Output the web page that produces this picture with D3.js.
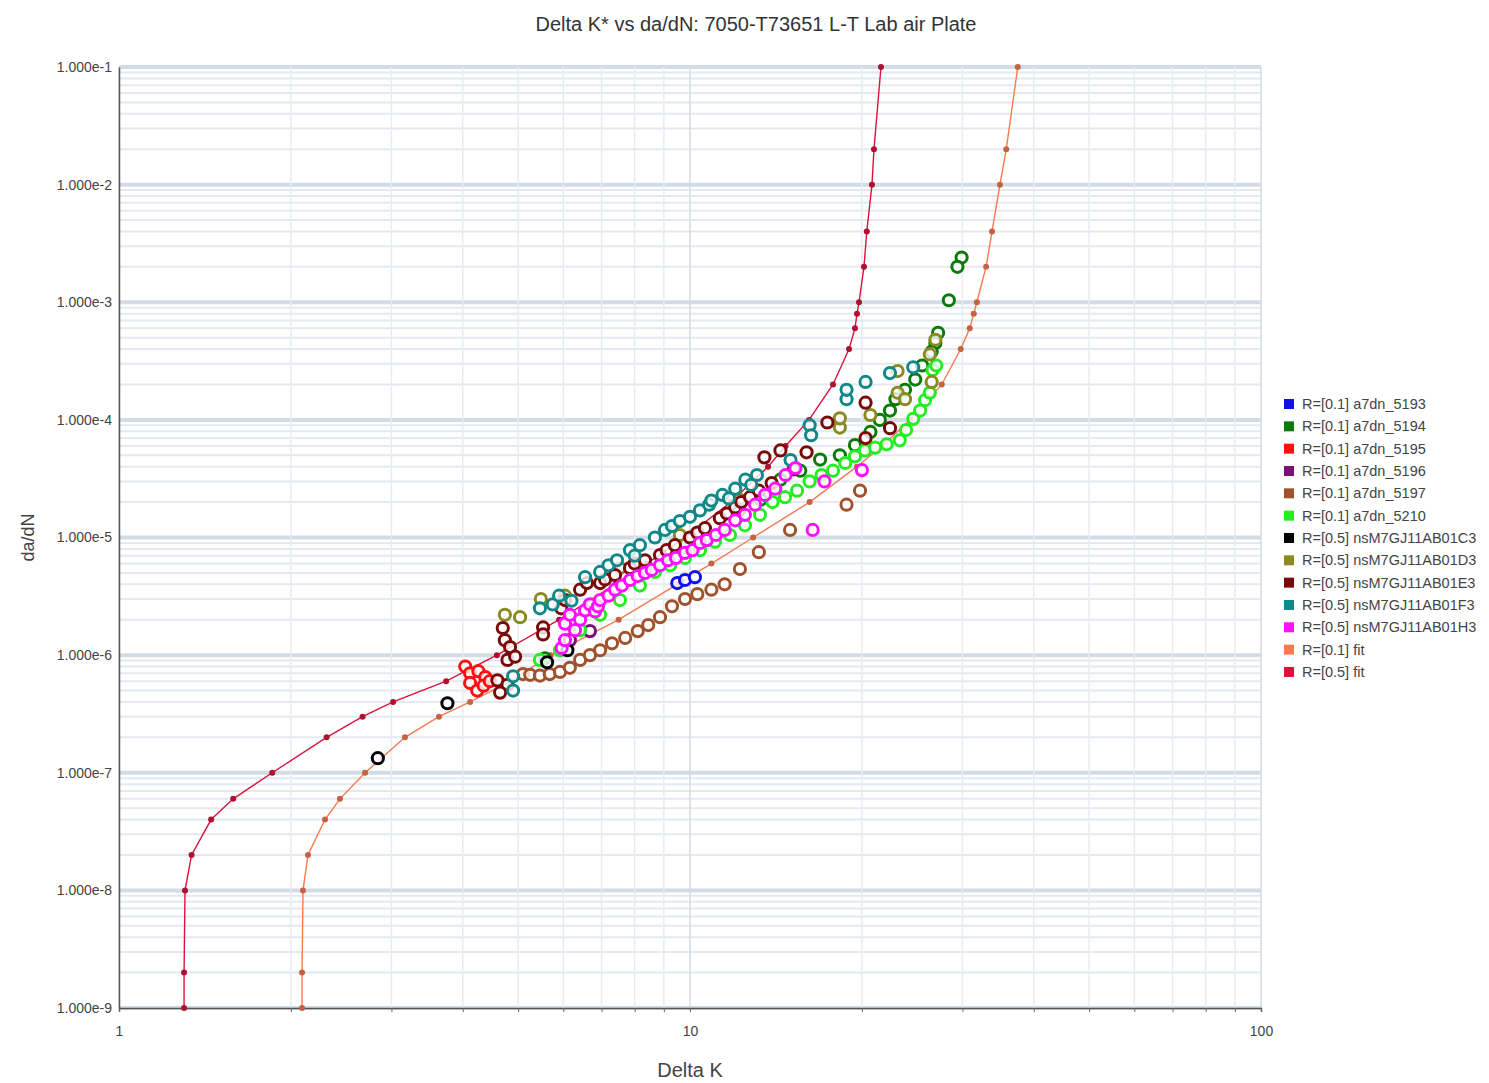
<!DOCTYPE html>
<html>
<head>
<meta charset="utf-8">
<script src="https://cdn.jsdelivr.net/npm/d3@7"></script>
<style>
  body { margin: 0; background: #fff; }
  text { font-family: "Liberation Sans", Arial, sans-serif; }
</style>
</head>
<body>
<svg id="chart" width="1489" height="1083"></svg>
<script>
// Chart values (Delta K, da/dN)
var seriesNames = ["R=[0.1] a7dn_5193", "R=[0.1] a7dn_5194", "R=[0.1] a7dn_5195", "R=[0.1] a7dn_5196",
    "R=[0.1] a7dn_5197", "R=[0.1] a7dn_5210", "R=[0.5] nsM7GJ11AB01C3", "R=[0.5] nsM7GJ11AB01D3",
    "R=[0.5] nsM7GJ11AB01E3", "R=[0.5] nsM7GJ11AB01F3", "R=[0.5] nsM7GJ11AB01H3", "R=[0.1] fit", "R=[0.5] fit"];
var seriesColors = ["#1010ee", "#0a7a0a", "#ff1010", "#7a107a", "#a0522d", "#22ee22", "#000000",
    "#8a8a20", "#7a0a0a", "#108888", "#ff10ff", "#f47a50", "#d8143c"];

var a5193 = [[9.5,4.1e-6],[9.8,4.35e-6],[10.2,4.6e-6]];
var a5194 = [[29.9,2.4e-3],[29.4,2.0e-3],[28.4,1.04e-3],[27.2,5.5e-4],[26.9,4.5e-4],[26.5,3.8e-4],[25.5,2.9e-4],
    [24.8,2.2e-4],[23.8,1.8e-4],[22.9,1.5e-4],[22.4,1.2e-4],[21.5,1.0e-4],[20.7,7.9e-5],[19.45,6.1e-5],
    [18.3,5.0e-5],[16.9,4.6e-5],[15.6,3.7e-5],[14.4,3.1e-5],[13.3,2.1e-5],[12.2,1.7e-5],[5.57,9.4e-7]];
var a5195 = [[4.04,8.0e-7],[4.12,7.0e-7],[4.26,7.3e-7],[4.38,6.5e-7],[4.12,5.8e-7],[4.24,5.0e-7],[4.35,5.5e-7],[4.46,6.0e-7]];
var a5196 = [[6.16,1.34e-6],[6.68,1.6e-6]];
var a5197 = [[5.1,6.9e-7],[5.25,6.8e-7],[5.46,6.7e-7],[5.68,6.9e-7],[5.92,7.2e-7],[6.16,7.8e-7],[6.42,9.1e-7],
    [6.68,1.0e-6],[6.96,1.1e-6],[7.3,1.26e-6],[7.7,1.4e-6],[8.1,1.6e-6],[8.45,1.8e-6],[8.86,2.1e-6],[9.3,2.6e-6],
    [9.8,3.0e-6],[10.3,3.3e-6],[10.9,3.6e-6],[11.5,4.0e-6],[12.23,5.4e-6],[13.2,7.5e-6],[14.97,1.16e-5],
    [18.8,1.9e-5],[19.85,2.5e-5]];
var a5210 = [[5.46,9.1e-7],[5.92,1.1e-6],[6.42,1.63e-6],[6.96,2.2e-6],[7.54,2.94e-6],[8.17,3.9e-6],[8.68,5.1e-6],
    [9.23,5.8e-6],[9.8,6.7e-6],[10.41,7.8e-6],[11.06,9.2e-6],[11.75,1.05e-5],[12.48,1.27e-5],[13.26,1.56e-5],
    [13.95,2.0e-5],[14.67,2.2e-5],[15.4,2.5e-5],[16.2,3.0e-5],[17.0,3.4e-5],[17.8,3.7e-5],[18.7,4.3e-5],
    [19.45,4.9e-5],[20.25,5.5e-5],[21.1,5.8e-5],[22.1,6.2e-5],[23.3,6.7e-5],[23.9,8.2e-5],[24.6,1.02e-4],
    [25.3,1.2e-4],[25.8,1.47e-4],[26.3,1.7e-4],[26.6,2.65e-4],[27.0,2.9e-4]];
var nsC3 = [[2.84,1.33e-7],[3.76,3.9e-7],[5.62,8.7e-7],[6.1,1.1e-6]];
var nsD3 = [[4.74,2.2e-6],[5.04,2.1e-6],[5.48,3.0e-6],[6.04,3.2e-6],[7.54,5.5e-6],[9.6,1.05e-5],[12.2,2.1e-5],
    [18.3,8.6e-5],[18.3,1.03e-4],[20.7,1.1e-4],[23.1,2.6e-4],[23.1,1.7e-4],[23.8,1.5e-4],[26.3,3.6e-4],
    [26.5,2.1e-4],[26.9,4.8e-4]];
var nsE3 = [[4.7,1.7e-6],[4.74,1.34e-6],[4.84,1.17e-6],[4.79,9.1e-7],[4.94,9.7e-7],[4.6,6.1e-7],[4.79,5.6e-7],
    [4.65,4.8e-7],[5.53,1.72e-6],[5.53,1.5e-6],[5.95,2.5e-6],[6.04,2.94e-6],[6.42,3.6e-6],[6.6,4.1e-6],
    [6.96,4.1e-6],[7.1,4.4e-6],[7.39,4.8e-6],[7.85,5.5e-6],[8.0,6.0e-6],[8.34,6.4e-6],[8.86,7.1e-6],
    [9.1,7.8e-6],[9.41,8.6e-6],[10.0,1.0e-5],[10.3,1.1e-5],[10.62,1.2e-5],[11.28,1.46e-5],[11.6,1.6e-5],
    [12.0,1.8e-5],[12.3,2.0e-5],[12.74,2.2e-5],[13.2,2.5e-5],[13.5,4.8e-5],[13.9,2.9e-5],[14.4,5.5e-5],
    [15.2,3.8e-5],[16.0,5.3e-5],[17.4,9.5e-5],[20.3,1.4e-4],[20.3,7.0e-5],[22.4,8.5e-5]];
var nsF3 = [[4.9,6.6e-7],[4.9,5.0e-7],[5.46,2.5e-6],[5.75,2.7e-6],[5.9,3.2e-6],[6.2,2.9e-6],[6.55,4.6e-6],
    [6.96,5.1e-6],[7.2,5.8e-6],[7.45,6.4e-6],[7.85,7.8e-6],[8.0,7.0e-6],[8.17,8.6e-6],[8.68,1.0e-5],
    [9.04,1.16e-5],[9.3,1.25e-5],[9.6,1.38e-5],[10.0,1.5e-5],[10.41,1.7e-5],[10.8,1.9e-5],[10.9,2.06e-5],
    [11.4,2.3e-5],[11.7,2.15e-5],[12.0,2.6e-5],[12.5,3.1e-5],[12.8,2.8e-5],[13.1,3.4e-5],[15.0,4.55e-5],
    [16.2,9.0e-5],[16.3,7.4e-5],[18.8,1.5e-4],[18.8,1.8e-4],[20.3,2.1e-4],[22.4,2.5e-4],[24.6,2.8e-4]];
var nsH3 = [[5.96,1.15e-6],[6.04,1.34e-6],[6.04,1.85e-6],[6.16,2.2e-6],[6.29,1.63e-6],[6.42,2.0e-6],[6.55,2.4e-6],
    [6.68,2.7e-6],[6.82,2.35e-6],[6.9,2.6e-6],[6.96,2.94e-6],[7.2,3.2e-6],[7.39,3.6e-6],[7.6,3.9e-6],
    [7.85,4.35e-6],[8.1,4.7e-6],[8.34,5.0e-6],[8.57,5.3e-6],[8.86,5.8e-6],[9.15,6.4e-6],[9.45,6.7e-6],
    [9.8,7.4e-6],[10.1,7.8e-6],[10.41,9.0e-6],[10.7,9.5e-6],[11.1,1.05e-5],[11.5,1.16e-5],[12.0,1.4e-5],
    [12.48,1.56e-5],[13.0,1.9e-5],[13.53,2.3e-5],[14.1,2.6e-5],[14.7,3.4e-5],[15.3,3.9e-5],[16.4,1.16e-5],
    [17.2,3.0e-5],[20.0,3.74e-5]];
var fitR01 = [[2.092,1e-9],[2.092,2e-9],[2.10,1e-8],[2.143,2e-8],[2.295,4e-8],[2.438,6e-8],[2.697,1e-7],
    [3.168,2e-7],[3.634,3e-7],[4.12,4e-7],[4.85,6e-7],[5.7,1e-6],[7.5,2e-6],[9.5,4e-6],[10.9,6e-6],
    [12.9,1e-5],[16.2,2e-5],[19.6,4e-5],[21.7,6e-5],[24.3,1e-4],[27.6,2e-4],[29.8,4e-4],[30.9,6e-4],
    [31.4,8e-4],[31.8,1e-3],[33.0,2e-3],[33.8,4e-3],[34.9,1e-2],[35.8,2e-2],[37.5,1e-1]];
var fitR05 = [[1.30,1e-9],[1.30,2e-9],[1.305,1e-8],[1.34,2e-8],[1.45,4e-8],[1.585,6e-8],[1.855,1e-7],
    [2.31,2e-7],[2.67,3e-7],[3.02,4e-7],[3.74,6e-7],[4.59,1e-6],[5.9,2e-6],[7.4,4e-6],[8.4,6e-6],
    [9.8,1e-5],[11.8,2e-5],[13.7,4e-5],[14.7,6e-5],[16.16,1e-4],[17.8,2e-4],[18.99,4e-4],[19.45,6e-4],
    [19.61,8e-4],[19.77,1e-3],[20.17,2e-3],[20.4,4e-3],[20.83,1e-2],[21.0,2e-2],[21.6,1e-1]];

var xTickLabels = [1, 10, 100];
var yDecades = [1e-9, 1e-8, 1e-7, 1e-6, 1e-5, 1e-4, 1e-3, 1e-2, 1e-1];

var scatterSets = [a5193, a5194, a5195, a5196, a5197, a5210, nsC3, nsD3, nsE3, nsF3, nsH3];
var fitSets = [fitR01, fitR05];

// Get svg and dimensions
var svg = d3.select("#chart");
var margin = {top: 67, left: 119, bottom: 75, right: 228};
var svgWidth = +svg.attr("width");
var svgHeight = +svg.attr("height");
var width = svgWidth - margin.left - margin.right;
var height = svgHeight - margin.top - margin.bottom;

var xScale = d3.scaleLog().domain([1, 100]).range([0, width]);
var yScale = d3.scaleLog().domain([1e-9, 1e-1]).range([height, 0]);

var g = svg.append("g").attr("transform", "translate(" + [margin.left, margin.top] + ")");

// minor values for grid lines
var xMinor = [];
[1, 10].forEach(function(base) {
    for (var k = 1; k <= 9; k++) xMinor.push(base * k);
});
xMinor.push(100);
var yMinor = [];
yDecades.slice(0, -1).forEach(function(base) {
    for (var k = 1; k <= 9; k++) yMinor.push(base * k);
});
yMinor.push(1e-1);

function isDecade(v) {
    var l = Math.log10(v);
    return Math.abs(l - Math.round(l)) < 1e-6;
}

// horizontal grid
g.append("g").attr("class", "grid-y")
    .selectAll("line").data(yMinor).enter().append("line")
    .attr("x1", 0).attr("x2", width)
    .attr("y1", function(d) { return yScale(d); })
    .attr("y2", function(d) { return yScale(d); })
    .attr("stroke", function(d) { return isDecade(d) ? "#d3dbe5" : "#e4e9ef"; })
    .attr("stroke-width", function(d) { return isDecade(d) ? 4 : 2; });

// vertical grid
g.append("g").attr("class", "grid-x")
    .selectAll("line").data(xMinor).enter().append("line")
    .attr("y1", 0).attr("y2", height)
    .attr("x1", function(d) { return xScale(d); })
    .attr("x2", function(d) { return xScale(d); })
    .attr("stroke", function(d) { return isDecade(d) ? "#d4dae2" : "#e8ecf1"; })
    .attr("stroke-width", 1.5);

// Axes
var xAxis = d3.axisBottom(xScale)
    .tickValues(xMinor)
    .tickSize(4)
    .tickPadding(14)
    .tickFormat(function(d) { return xTickLabels.indexOf(d) >= 0 ? d : ""; });
var xAxisG = g.append("g").attr("class", "x axis")
    .attr("transform", "translate(0," + height + ")")
    .call(xAxis);

var yAxis = d3.axisLeft(yScale)
    .tickValues(yDecades)
    .tickSize(0)
    .tickPadding(7)
    .tickFormat(function(d) { return "1.000e" + Math.round(Math.log10(d)); });
var yAxisG = g.append("g").attr("class", "y axis").call(yAxis);

[xAxisG, yAxisG].forEach(function(a) {
    a.select(".domain").attr("stroke", "#555").attr("stroke-width", 1.5);
    a.selectAll(".tick line").attr("stroke", "#666");
    a.selectAll(".tick text").attr("fill", "#444").style("font-size", "14px")
        .style("font-family", "'Liberation Sans', Arial, sans-serif");
});

// Fit curves
var line = d3.line()
    .x(function(d) { return xScale(d[0]); })
    .y(function(d) { return yScale(d[1]); });

fitSets.forEach(function(data, i) {
    var color = seriesColors[11 + i];
    g.append("path").datum(data)
        .attr("d", line)
        .attr("fill", "none")
        .attr("stroke", color)
        .attr("stroke-width", 1.4);
    g.selectAll(".fitdot" + i).data(data).enter().append("circle")
        .attr("class", "fitdot" + i)
        .attr("cx", function(d) { return xScale(d[0]); })
        .attr("cy", function(d) { return yScale(d[1]); })
        .attr("r", 3)
        .attr("fill", d3.color(color).darker(0.6));
});

// Scatter series
scatterSets.forEach(function(data, i) {
    var color = seriesColors[i];
    var dots = g.append("g").attr("class", "series" + i);
    dots.selectAll("circle").data(data).enter().append("circle")
        .attr("cx", function(d) { return xScale(d[0]); })
        .attr("cy", function(d) { return yScale(d[1]); })
        .attr("r", 5.6)
        .attr("fill", "#fff")
        .attr("fill-opacity", 0.8)
        .attr("stroke", color)
        .attr("stroke-width", 3);
});

// Title and axis labels
svg.append("text")
    .attr("x", 756).attr("y", 31)
    .attr("text-anchor", "middle")
    .attr("fill", "#333")
    .style("font-size", "20px")
    .text("Delta K* vs da/dN: 7050-T73651 L-T Lab air Plate");
svg.append("text")
    .attr("x", margin.left + width / 2).attr("y", 1077)
    .attr("text-anchor", "middle")
    .attr("fill", "#444")
    .style("font-size", "20px")
    .text("Delta K");
svg.append("text")
    .attr("transform", "translate(34," + (margin.top + height / 2) + ") rotate(-90)")
    .attr("text-anchor", "middle")
    .attr("fill", "#444")
    .style("font-size", "18px")
    .text("da/dN");

// Legend
var legend = svg.append("g").attr("transform", "translate(1284,404)");
var rows = legend.selectAll("g").data(seriesNames).enter().append("g")
    .attr("transform", function(d, i) { return "translate(0," + (i * 22.33) + ")"; });
rows.append("rect")
    .attr("x", 0).attr("y", -5).attr("width", 10).attr("height", 10)
    .attr("fill", function(d, i) { return seriesColors[i]; });
rows.append("text")
    .attr("x", 18).attr("y", 5)
    .attr("fill", "#444")
    .style("font-size", "14.5px")
    .text(function(d) { return d; });
</script>
</body>
</html>
